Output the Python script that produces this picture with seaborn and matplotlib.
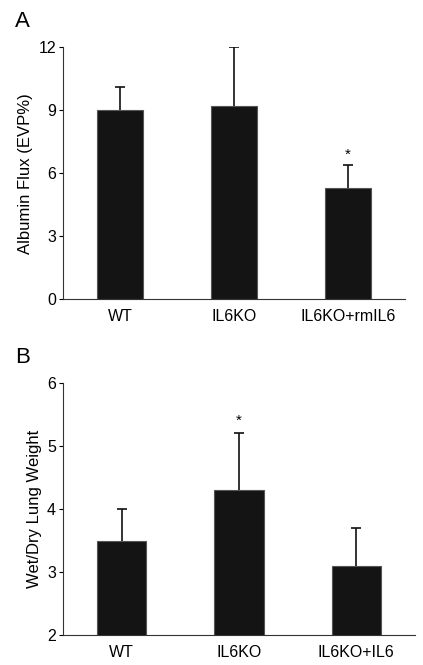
import numpy as np
import pandas as pd
import matplotlib
matplotlib.use("Agg")
import matplotlib.pyplot as plt
import seaborn as sns

# panel A: albumin flux
groups_a = ["WT", "IL6KO", "IL6KO+rmIL6"]
flux_mean = [9.0, 9.2, 5.3]
flux_err = [1.1, 2.8, 1.1]

# panel B: wet/dry lung weight
groups_b = ["WT", "IL6KO", "IL6KO+IL6"]
wetdry_mean = [3.5, 4.3, 3.1]
wetdry_err = [0.5, 0.9, 0.6]

sns.set_theme(style="ticks")
plt.rcParams["font.family"] = ["Liberation Sans", "DejaVu Sans"]
plt.rcParams["text.color"] = "black"
plt.rcParams["axes.labelcolor"] = "black"
plt.rcParams["xtick.color"] = "black"
plt.rcParams["ytick.color"] = "black"

fig = plt.figure(figsize=(4.23, 6.65), dpi=100)
ax_a = fig.add_axes([0.149, 0.550, 0.808, 0.379])
ax_b = fig.add_axes([0.149, 0.045, 0.832, 0.379])


def draw_panel(ax, groups, means, errs, ylim, yticks, ylabel, width, star_idx, star_y, letter):
    df = pd.DataFrame({"group": groups, "value": means})
    sns.barplot(data=df, x="group", y="value", color="#141414", width=width,
                edgecolor="#555555", linewidth=0.8, saturation=1, errorbar=None, ax=ax)
    x = np.arange(len(groups))
    _, caps, _ = ax.errorbar(x, means, yerr=[np.zeros(len(errs)), errs], fmt="none",
                             ecolor="#111111", elinewidth=1.2, capsize=3.5, capthick=1.2)
    # only the upper cap is shown
    caps[0].set_visible(False)
    ax.text(star_idx, star_y, "*", ha="center", va="center", fontsize=11)
    ax.set_ylim(*ylim)
    ax.set_xlim(-0.5, len(groups) - 0.5)
    ax.set_yticks(yticks)
    ax.set_ylabel(ylabel, fontsize=12, labelpad=4)
    ax.set_xlabel("")
    ax.tick_params(axis="y", length=3, width=0.8, labelsize=11.5, pad=2)
    ax.tick_params(axis="x", length=0, labelsize=11.5, pad=7)
    sns.despine(ax=ax)
    for side in ["left", "bottom"]:
        ax.spines[side].set_linewidth(0.8)
        ax.spines[side].set_color("#333333")
    fig.text(0.035, ax.get_position().y1 + 0.038, letter, fontsize=16, ha="left", va="center")


draw_panel(ax_a, groups_a, flux_mean, flux_err, (0, 12), [0, 3, 6, 9, 12],
           "Albumin Flux (EVP%)", 0.4, 2, 6.9, "A")
draw_panel(ax_b, groups_b, wetdry_mean, wetdry_err, (2, 6), [2, 3, 4, 5, 6],
           "Wet/Dry Lung Weight", 0.42, 1, 5.4, "B")

fig.savefig("out.png", dpi=100)
